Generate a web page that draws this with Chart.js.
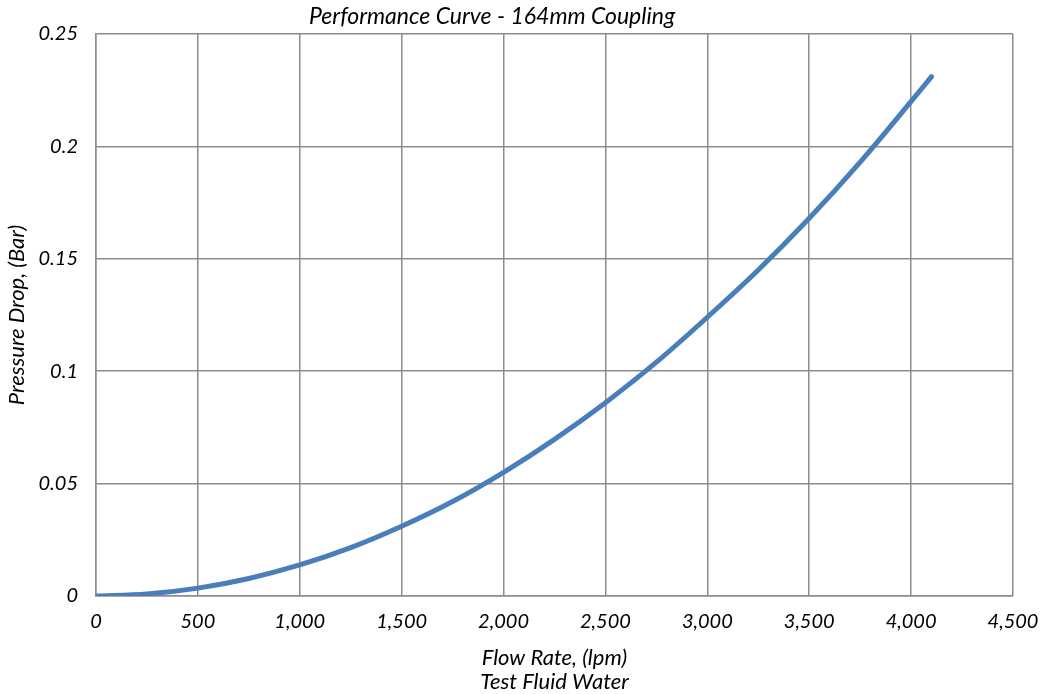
<!DOCTYPE html>
<html>
<head>
<meta charset="utf-8">
<script src="https://cdn.jsdelivr.net/npm/chart.js@4/dist/chart.umd.min.js"></script>
<style>
  html, body { margin: 0; padding: 0; background: #fff; }
  #wrap { width: 1045px; height: 694px; position: relative; }
</style>
</head>
<body>
<div id="wrap"><canvas id="chart"></canvas></div>
<script>
// flow rate (lpm) and pressure drop (bar)
const flowRate = [0, 250, 500, 750, 1000, 1250, 1500, 1750, 2000, 2250, 2500, 2750, 3000, 3250, 3500, 3750, 4000, 4100];
const pressureDrop = [0, 0.0009, 0.0035, 0.0078, 0.0138, 0.0215, 0.031, 0.042, 0.055, 0.0697, 0.086, 0.104, 0.124, 0.145, 0.168, 0.193, 0.220, 0.231];

const titleText = 'Performance Curve - 164mm Coupling';
const xTitle = ['Flow Rate, (lpm)', 'Test Fluid Water'];
const yTitle = 'Pressure Drop, (Bar)';

const fontFamily = 'Lato, sans-serif';
const gridColor = '#8c8c8c';

const points = flowRate.map((x, i) => ({ x: x, y: pressureDrop[i] }));

const titlePlugin = {
    id: 'topTitle',
    afterDraw(chart) {
        const c = chart.ctx;
        c.save();
        c.font = 'italic 23px ' + fontFamily;
        c.fillStyle = '#000';
        c.textAlign = 'center';
        c.textBaseline = 'middle';
        c.fillText(titleText, 492, 17);
        c.restore();
    }
};

const ctx = document.getElementById('chart').getContext('2d');
const chart = new Chart(ctx, {
    type: 'line',
    data: {
        datasets: [{
            data: points,
            borderColor: '#4a7ebb',
            borderWidth: 5,
            borderCapStyle: 'round',
            pointRadius: 0,
            tension: 0.4,
            cubicInterpolationMode: 'monotone',
            fill: false
        }]
    },
    options: {
        responsive: true,
        maintainAspectRatio: false,
        animation: false,
        layout: { padding: { top: 34, right: 32, left: 0, bottom: 0 } },
        plugins: {
            legend: { display: false },
            tooltip: { enabled: false }
        },
        scales: {
            x: {
                type: 'linear',
                min: 0,
                max: 4500,
                afterFit: (s) => { s.height = 98; s.paddingRight = 0; s.paddingLeft = 0; },
                ticks: {
                    stepSize: 500,
                    padding: 14,
                    color: '#000',
                    font: { family: fontFamily, size: 20, style: 'italic' },
                    maxRotation: 0,
                    callback: (v) => v.toLocaleString('en-US')
                },
                grid: { color: gridColor, lineWidth: 1.5, drawTicks: false },
                border: { color: gridColor, width: 1.5 },
                title: {
                    display: true,
                    text: xTitle,
                    color: '#000',
                    font: { family: fontFamily, size: 22, style: 'italic', lineHeight: 1.05 },
                    padding: { top: 0, bottom: 1 }
                }
            },
            y: {
                min: 0,
                max: 0.25,
                afterFit: (s) => { s.width = 96; s.paddingTop = 0; s.paddingBottom = 0; },
                ticks: {
                    stepSize: 0.05,
                    padding: 18,
                    color: '#000',
                    font: { family: fontFamily, size: 20, style: 'italic' },
                    callback: (v) => String(Math.round(v * 100) / 100)
                },
                grid: { color: gridColor, lineWidth: 1.5, drawTicks: false },
                border: { color: gridColor, width: 1.5 },
                title: {
                    display: true,
                    text: yTitle,
                    color: '#000',
                    font: { family: fontFamily, size: 22, style: 'italic' },
                    padding: { top: 4, bottom: 0 }
                }
            }
        }
    },
    plugins: [titlePlugin]
});
</script>
</body>
</html>
